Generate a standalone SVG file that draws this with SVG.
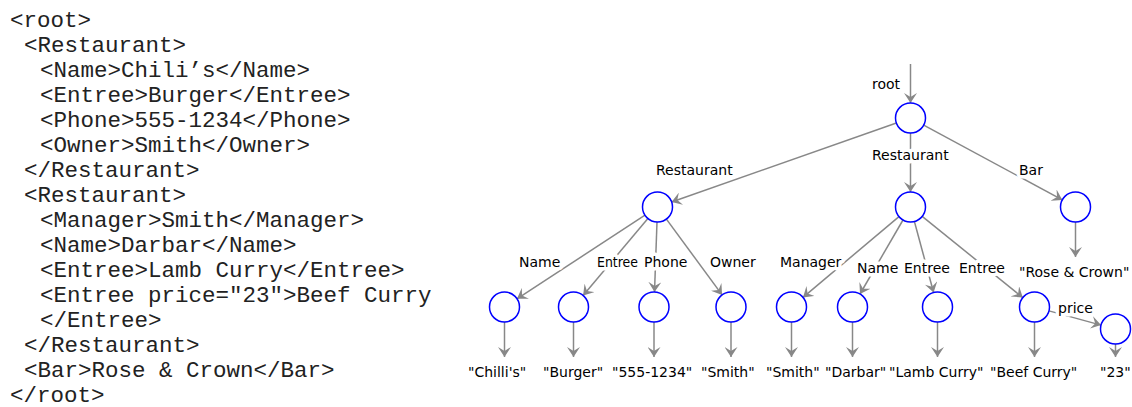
<svg xmlns="http://www.w3.org/2000/svg" width="1132" height="407" viewBox="0 0 1132 407">
<style>
.code{font-family:"Liberation Mono","Courier New",monospace;font-size:22.5px;fill:#222}
.node{fill:#fff;stroke:#0000ff;stroke-width:1.5}
.edge{stroke:#888;stroke-width:1.5;fill:none;marker-end:url(#ah)}
.lbl{font-family:"DejaVu Sans",Verdana,sans-serif;font-size:14px;fill:#000;stroke:#fff;stroke-width:7;stroke-linejoin:round;paint-order:stroke}
.val{font-family:"DejaVu Sans",Verdana,sans-serif;font-size:14px;fill:#000}
</style>
<defs>
<marker id="ah" viewBox="0 0 10 13" refX="10" refY="6.5" markerWidth="10" markerHeight="13" markerUnits="userSpaceOnUse" orient="auto">
<path d="M0,0 L10,6.5 L0,13 L4,6.5 Z" fill="#888"/>
</marker>
</defs>
<rect width="1132" height="407" fill="#fff"/>
<g id="xml-code">
<text class="code" x="10" y="27">&lt;root&gt;</text>
<text class="code" x="24" y="52">&lt;Restaurant&gt;</text>
<text class="code" x="40" y="77">&lt;Name&gt;Chili’s&lt;/Name&gt;</text>
<text class="code" x="40" y="102">&lt;Entree&gt;Burger&lt;/Entree&gt;</text>
<text class="code" x="40" y="127">&lt;Phone&gt;555-1234&lt;/Phone&gt;</text>
<text class="code" x="40" y="152">&lt;Owner&gt;Smith&lt;/Owner&gt;</text>
<text class="code" x="24" y="177">&lt;/Restaurant&gt;</text>
<text class="code" x="24" y="202">&lt;Restaurant&gt;</text>
<text class="code" x="40" y="227">&lt;Manager&gt;Smith&lt;/Manager&gt;</text>
<text class="code" x="40" y="252">&lt;Name&gt;Darbar&lt;/Name&gt;</text>
<text class="code" x="40" y="277">&lt;Entree&gt;Lamb Curry&lt;/Entree&gt;</text>
<text class="code" x="40" y="302">&lt;Entree price="23"&gt;Beef Curry</text>
<text class="code" x="40" y="327">&lt;/Entree&gt;</text>
<text class="code" x="24" y="352">&lt;/Restaurant&gt;</text>
<text class="code" x="24" y="377">&lt;Bar&gt;Rose &amp; Crown&lt;/Bar&gt;</text>
<text class="code" x="10" y="402">&lt;/root&gt;</text>
</g>
<g id="connectors">
<line class="edge" x1="910.5" y1="64" x2="910.5" y2="103"/>
<line class="edge" x1="896.4" y1="123" x2="671.6" y2="202"/>
<line class="edge" x1="910.5" y1="133" x2="910.5" y2="192"/>
<line class="edge" x1="923.7" y1="125.1" x2="1062.3" y2="199.9"/>
<line class="edge" x1="645" y1="215.2" x2="517" y2="298.8"/>
<line class="edge" x1="647.9" y1="218.5" x2="583.1" y2="295.5"/>
<line class="edge" x1="657" y1="222" x2="654.5" y2="292"/>
<line class="edge" x1="666.4" y1="219.1" x2="722.1" y2="294.9"/>
<line class="edge" x1="899" y1="216.6" x2="803" y2="297.4"/>
<line class="edge" x1="903" y1="220" x2="860" y2="294"/>
<line class="edge" x1="914.4" y1="221.5" x2="933.6" y2="292.5"/>
<line class="edge" x1="922.2" y1="216.4" x2="1022.8" y2="297.6"/>
<line class="edge" x1="1049" y1="310.9" x2="1101" y2="325.1"/>
<line class="edge" x1="1075.5" y1="222" x2="1075.5" y2="257"/>
<line class="edge" x1="504.5" y1="322" x2="504.5" y2="357"/>
<line class="edge" x1="573.5" y1="322" x2="573.5" y2="357"/>
<line class="edge" x1="654" y1="322" x2="654" y2="357"/>
<line class="edge" x1="731" y1="322" x2="731" y2="357"/>
<line class="edge" x1="791.5" y1="322" x2="791.5" y2="357"/>
<line class="edge" x1="852.5" y1="322" x2="852.5" y2="357"/>
<line class="edge" x1="937.5" y1="322" x2="937.5" y2="357"/>
<line class="edge" x1="1034.5" y1="322" x2="1034.5" y2="357"/>
<line class="edge" x1="1115.5" y1="344" x2="1115.5" y2="357"/>
<text class="lbl" x="872" y="89">root</text>
<text class="lbl" x="656" y="175">Restaurant</text>
<text class="lbl" x="872" y="160">Restaurant</text>
<text class="lbl" x="1019" y="175">Bar</text>
<text class="lbl" x="519" y="267">Name</text>
<text class="lbl" x="597" y="267" textLength="41" lengthAdjust="spacingAndGlyphs">Entree</text>
<text class="lbl" x="644" y="267">Phone</text>
<text class="lbl" x="710" y="267">Owner</text>
<text class="lbl" x="780" y="267">Manager</text>
<text class="lbl" x="857" y="273">Name</text>
<text class="lbl" x="904" y="273">Entree</text>
<text class="lbl" x="959" y="273">Entree</text>
<text class="lbl" x="1058" y="313">price</text>
</g>
<g id="n-root"><circle class="node" cx="910.5" cy="118" r="15"/></g>
<g id="n-rest1"><circle class="node" cx="657.5" cy="207" r="15"/></g>
<g id="n-rest2"><circle class="node" cx="910.5" cy="207" r="15"/></g>
<g id="n-bar"><circle class="node" cx="1075.5" cy="207" r="15"/><text class="val" x="1019" y="277">"Rose &amp; Crown"</text></g>
<g id="n-name1"><circle class="node" cx="504.5" cy="307" r="15"/><text class="val" x="468" y="377">"Chilli's"</text></g>
<g id="n-entree1"><circle class="node" cx="573.5" cy="307" r="15"/><text class="val" x="543" y="377">"Burger"</text></g>
<g id="n-phone1"><circle class="node" cx="654" cy="307" r="15"/><text class="val" x="612" y="377">"555-1234"</text></g>
<g id="n-owner1"><circle class="node" cx="731" cy="307" r="15"/><text class="val" x="701" y="377">"Smith"</text></g>
<g id="n-manager2"><circle class="node" cx="791.5" cy="307" r="15"/><text class="val" x="766" y="377">"Smith"</text></g>
<g id="n-name2"><circle class="node" cx="852.5" cy="307" r="15"/><text class="val" x="825" y="377">"Darbar"</text></g>
<g id="n-entree2"><circle class="node" cx="937.5" cy="307" r="15"/><text class="val" x="889" y="377">"Lamb Curry"</text></g>
<g id="n-entree3"><circle class="node" cx="1034.5" cy="307" r="15"/><text class="val" x="990" y="377">"Beef Curry"</text></g>
<g id="n-price"><circle class="node" cx="1115.5" cy="329" r="15"/><text class="val" x="1100" y="377">"23"</text></g>
</svg>
